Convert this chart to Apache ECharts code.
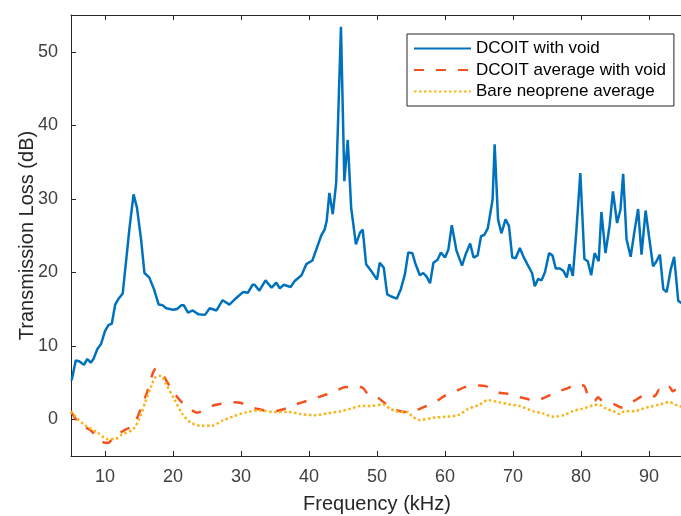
<!DOCTYPE html>
<html>
<head>
<meta charset="utf-8">
<script src="https://cdn.jsdelivr.net/npm/echarts@6/dist/echarts.min.js"></script>
<style>html,body{margin:0;padding:0;background:#fff}#c{width:681px;height:516px}</style>
</head>
<body>
<div id="c"></div>
<script>
const xTicks = [10, 20, 30, 40, 50, 60, 70, 80, 90];
const yTicks = [0, 10, 20, 30, 40, 50];

const blueX = [5.1,5.7,6.2,6.9,7.4,7.9,8.3,8.9,9.4,10.0,10.5,11.0,11.5,12.0,12.6,13.1,13.6,14.2,14.7,15.3,15.8,16.5,17.2,17.9,18.5,19.0,20.0,20.6,21.2,21.6,22.2,22.9,23.7,24.7,25.4,26.4,27.3,28.3,29.3,30.3,31.0,31.7,32.0,32.7,33.6,34.5,35.2,35.7,36.3,37.3,37.9,38.9,39.6,40.5,41.3,41.8,42.3,42.6,43.0,43.5,44.0,44.7,45.2,45.7,46.2,46.9,47.5,47.9,48.4,49.2,50.0,50.4,51.0,51.5,52.1,52.9,53.5,54.1,54.6,55.2,55.6,56.3,56.8,57.3,57.8,58.3,58.9,59.4,60.0,60.5,61.0,61.7,62.5,63.1,63.7,64.2,64.8,65.3,65.8,66.3,67.0,67.3,67.8,68.3,68.9,69.4,69.9,70.4,71.0,71.5,72.1,72.8,73.2,73.7,74.2,74.7,75.3,75.8,76.3,76.9,77.4,77.9,78.3,78.8,79.3,79.9,80.5,81.0,81.5,82.0,82.6,83.0,83.6,84.2,84.7,85.3,85.8,86.2,86.7,87.3,87.9,88.4,88.9,89.5,90.0,90.6,91.1,91.6,92.1,92.6,93.2,93.7,94.3,94.8];
const blueY = [5.3,8.0,7.9,7.4,8.2,7.7,8.2,9.6,10.2,12.0,12.8,13.0,15.6,16.4,17.1,21.5,26.0,30.6,28.8,24.5,19.9,19.3,17.7,15.6,15.5,15.1,14.9,15.0,15.5,15.5,14.5,14.8,14.3,14.2,15.1,14.8,16.2,15.6,16.5,17.3,17.2,18.3,18.3,17.5,18.9,17.9,18.6,17.8,18.3,18.0,18.8,19.6,21.1,21.6,23.7,25.0,25.8,27.0,30.8,27.9,32.2,53.4,32.4,38.0,28.8,23.8,25.4,25.8,21.1,20.1,19.0,21.3,20.6,17.0,16.7,16.4,17.7,19.7,22.7,22.6,21.3,19.6,19.9,19.4,18.5,21.3,21.7,22.7,22.0,23.1,26.4,22.9,20.9,22.6,23.9,22.0,22.3,24.9,25.1,26.0,29.9,37.4,27.2,25.3,27.2,26.3,22.0,21.9,23.3,22.2,21.1,19.9,18.1,19.1,18.9,20.0,22.6,22.3,20.5,20.5,20.2,19.3,21.1,19.5,25.4,33.5,21.8,21.5,19.6,22.6,21.5,28.2,22.6,26.3,31.0,26.7,28.5,33.4,24.5,22.1,25.8,28.6,22.4,28.4,24.9,20.8,21.5,22.4,17.7,17.3,20.4,22.1,16.1,15.8];

const orangeX = [5,5.5,6,7,7.5,8,9,9.5,10,10.5,11,12,13,14,14.5,15,15.5,16,16.5,17,17.5,18,18.5,19,19.5,20,21,22,23,23.5,24,25,26,27,28,29,30,31,32,33,34,35,36,37,38,39,40,41,42,43,44,45,46,47,47.5,48,48.5,49,50,51,52,53,54,55,56,57,58,59,60,61,62,63,64,65,66,67,68,69,70,71,72,73,74,75,76,77,78,79,79.5,80,80.5,81,81.5,82,82.5,83,84,85,86,87,88,89,90,91,91.5,92,92.5,93,93.5,94,95];
const orangeY = [1.0,0.3,-0.3,-1.0,-1.3,-1.6,-2.6,-3.0,-3.2,-3.2,-2.8,-2.0,-1.4,-1.0,-0.3,0.8,2.0,3.2,4.5,6.2,6.9,6.3,6.0,5.3,4.5,3.8,2.6,1.7,1.1,0.9,1.0,1.4,1.9,2.1,2.2,2.3,2.2,1.8,1.5,1.3,1.1,1.1,1.3,1.6,2.0,2.3,2.6,2.9,3.2,3.5,3.9,4.3,4.4,4.5,4.4,4.2,3.6,3.2,3.0,2.3,1.6,1.2,1.0,1.0,1.3,1.7,2.1,2.6,3.2,3.5,4.0,4.4,4.6,4.6,4.5,4.0,3.6,3.5,3.3,3.0,2.8,2.5,2.7,3.1,3.5,3.9,4.2,4.7,4.8,4.7,4.5,3.3,2.6,2.5,3.0,2.6,2.3,2.0,1.6,2.0,2.6,3.1,2.8,3.3,4.0,3.7,4.3,4.4,3.8,4.1,4.3];

const yellowX = [5.0,6.0,7.2,8.9,10.4,11.4,12.6,14.1,15.1,15.9,16.8,17.4,18.2,19.0,20.2,21.4,22.6,24.1,25.6,27.3,29.0,31.0,32.9,34.9,36.9,38.8,40.8,42.7,44.7,46.2,47.6,48.9,50.9,51.9,53.3,54.6,55.1,56.3,58.2,60.2,61.9,63.4,65.1,66.3,67.8,69.5,71.0,72.9,74.4,75.9,77.4,78.8,80.3,81.8,82.5,83.7,85.0,85.7,86.4,87.9,88.8,90.1,91.6,93.0,93.8,94.5,95.0];
const yellowY = [1.1,0.0,-0.9,-1.8,-2.7,-2.7,-2.0,-1.4,0.2,2.3,4.5,5.7,5.9,4.75,2.7,0.7,-0.45,-0.9,-0.9,-0.2,0.45,1.0,1.2,1.0,1.0,0.7,0.55,0.8,1.1,1.45,1.8,1.8,2.0,1.45,1.0,1.0,0.45,-0.1,0.2,0.35,0.55,1.4,2.0,2.6,2.35,2.0,1.8,1.1,0.8,0.35,0.55,1.1,1.45,1.9,2.0,1.45,1.0,0.7,1.1,1.1,1.35,1.7,2.0,2.35,2.0,1.8,1.6];

const seriesNames = ['DCOIT with void', 'DCOIT average with void', 'Bare neoprene average'];
const zip = (a, b) => a.map((v, i) => [v, b[i]]);

const FONT = '"Liberation Sans", Arial, sans-serif';
const AXC = '#262626';

const chart = echarts.init(document.getElementById('c'), null, {renderer: 'canvas'});
chart.setOption({
  animation: false,
  backgroundColor: '#ffffff',
  grid: {left: 71, right: -2, top: 15, bottom: 60, containLabel: false, outerBoundsMode: 'none'},
  legend: {
    orient: 'vertical', left: 407, top: 34,
    padding: [6, 8, 6, 6], itemGap: 4.5, itemWidth: 57, itemHeight: 18,
    borderColor: AXC, borderWidth: 1, backgroundColor: '#fff',
    itemStyle: {opacity: 0},
    textStyle: {fontFamily: FONT, fontSize: 17, color: '#000'},
    data: seriesNames
  },
  xAxis: [{
    type: 'value', min: 5, max: 95, position: 'bottom',
    name: 'Frequency (kHz)', nameLocation: 'middle', nameGap: 38, nameMoveOverlap: false,
    nameTextStyle: {fontFamily: FONT, fontSize: 20, color: AXC},
    axisLine: {show: true, onZero: false, lineStyle: {color: AXC, width: 1}},
    axisTick: {show: true, inside: true, length: 5, customValues: xTicks, lineStyle: {color: AXC}},
    axisLabel: {show: true, customValues: xTicks, margin: 12, fontFamily: FONT, fontSize: 18, color: '#404040'},
    splitLine: {show: false}
  }, {
    type: 'value', min: 5, max: 95, position: 'top',
    axisLine: {show: true, onZero: false, lineStyle: {color: AXC, width: 1}},
    axisTick: {show: true, inside: true, length: 5, customValues: xTicks, lineStyle: {color: AXC}},
    axisLabel: {show: false},
    splitLine: {show: false}
  }],
  yAxis: [{
    type: 'value', min: -5, max: 55, position: 'left',
    name: 'Transmission Loss (dB)', nameLocation: 'middle', nameGap: 34, nameMoveOverlap: false,
    nameTextStyle: {fontFamily: FONT, fontSize: 20, color: AXC},
    axisLine: {show: true, onZero: false, lineStyle: {color: AXC, width: 1}},
    axisTick: {show: true, inside: true, length: 5, customValues: yTicks, lineStyle: {color: AXC}},
    axisLabel: {show: true, customValues: yTicks, margin: 13, fontFamily: FONT, fontSize: 18, color: '#404040'},
    splitLine: {show: false}
  }],
  series: [{
    name: seriesNames[0], type: 'line', data: zip(blueX, blueY),
    showSymbol: false, symbol: 'none',
    lineStyle: {color: '#0072BD', width: 2.5}, itemStyle: {color: '#0072BD'}, z: 3
  }, {
    name: seriesNames[1], type: 'line', data: zip(orangeX, orangeY),
    showSymbol: false, symbol: 'none', smooth: 0.3,
    lineStyle: {color: '#F4511E', width: 2.5, type: [10, 12]}, itemStyle: {color: '#F4511E'}, z: 2
  }, {
    name: seriesNames[2], type: 'line', data: zip(yellowX, yellowY),
    showSymbol: false, symbol: 'none', smooth: 0.3,
    lineStyle: {color: '#F9B418', width: 2.5, type: [2.5, 2.5]}, itemStyle: {color: '#F9B418'}, z: 2
  }]
});
</script>
</body>
</html>
